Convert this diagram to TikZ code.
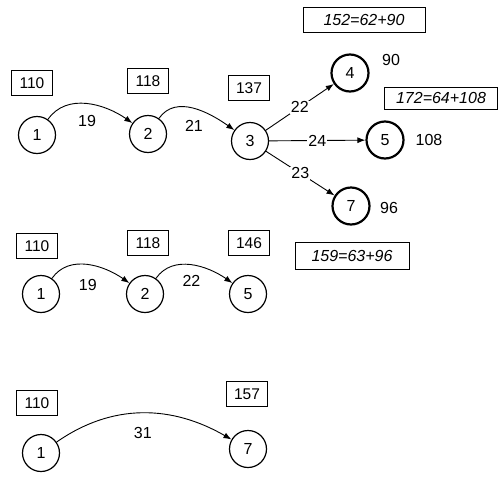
\documentclass[tikz,border=0pt]{standalone}
\usepackage{fontspec}
\setmainfont{Liberation Sans}
\usetikzlibrary{arrows.meta}
\begin{document}
\begin{tikzpicture}[x=1pt,y=-1pt,
  vtx/.style={circle,draw,line width=1.2pt,minimum size=37pt,inner sep=0pt,font=\fontsize{16}{16}\selectfont},
  hvtx/.style={vtx,line width=2.2pt},
  valbox/.style={draw,line width=0.9pt,minimum width=41pt,minimum height=25pt,inner sep=0pt,font=\fontsize{15.5}{15.5}\selectfont},
  sumbox/.style={draw,line width=0.9pt,minimum height=25pt,inner sep=0pt,font=\itshape\fontsize{16}{16}\selectfont},
  plain/.style={font=\fontsize{16}{16}\selectfont,inner sep=0pt},
  arc/.style={line width=0.9pt,-{Latex[length=8pt,width=6pt]}},
  elab/.style={font=\fontsize{16}{16}\selectfont,inner sep=1pt},
  olab/.style={elab,fill=white}
]
\useasboundingbox[fill=white] (0,0) rectangle (503,477);

% ---- row 1
\node[vtx]  (a1) at (37,135) {1};
\node[vtx]  (a2) at (148,134) {2};
\node[vtx]  (a3) at (250,141) {3};
\node[hvtx] (a4) at (350,73) {4};
\node[hvtx] (a5) at (385,140) {5};
\node[hvtx] (a7) at (351,206) {7};
\node[valbox] (b110a) at (32,83) {110};
\node[valbox] (b118a) at (148,81) {118};
\node[valbox] (b137)  at (249,88) {137};
\node[sumbox,minimum width=122pt] (s152) at (364,20) {152=62+90};
\node[sumbox,minimum width=113pt,minimum height=22pt] (s172) at (441,98) {172=64+108};
\node[plain] (t90)  at (391,60)  {90};
\node[plain] (t108) at (429,140) {108};
\node[plain] (t96)  at (389,208) {96};

\draw[arc] (a1) to[out=55,in=145] node[elab,pos=0.5,yshift=-17pt]{19} (a2);
\draw[arc] (a2) to[out=55,in=145] node[elab,pos=0.5,yshift=-17pt]{21} (a3);
\draw[arc] (a3) -- node[olab]{22} (a4);
\draw[arc] (a3) -- node[olab]{24} (a5);
\draw[arc] (a3) -- node[olab]{23} (a7);

% ---- row 2
\node[vtx] (c1) at (41,294) {1};
\node[vtx] (c2) at (145,294) {2};
\node[vtx] (c5) at (248,294) {5};
\node[valbox] (b110b) at (37,246) {110};
\node[valbox] (b118b) at (148,243) {118};
\node[valbox] (b146)  at (249,243) {146};
\node[sumbox,minimum width=114pt,minimum height=27pt] (s159) at (352,256) {159=63+96};

\draw[arc] (c1) to[out=55,in=145] node[elab,pos=0.5,yshift=-20pt]{19} (c2);
\draw[arc] (c2) to[out=55,in=145] node[elab,pos=0.5,yshift=-16pt]{22} (c5);

% ---- row 3
\node[vtx] (d1) at (41,453) {1};
\node[vtx] (d7) at (248,449) {7};
\node[valbox] (b110c) at (37,403) {110};
\node[valbox] (b157)  at (247,394) {157};

\draw[arc] (d1) to[out=35,in=150] node[elab,pos=0.5,yshift=-20pt]{31} (d7);
\end{tikzpicture}
\end{document}
